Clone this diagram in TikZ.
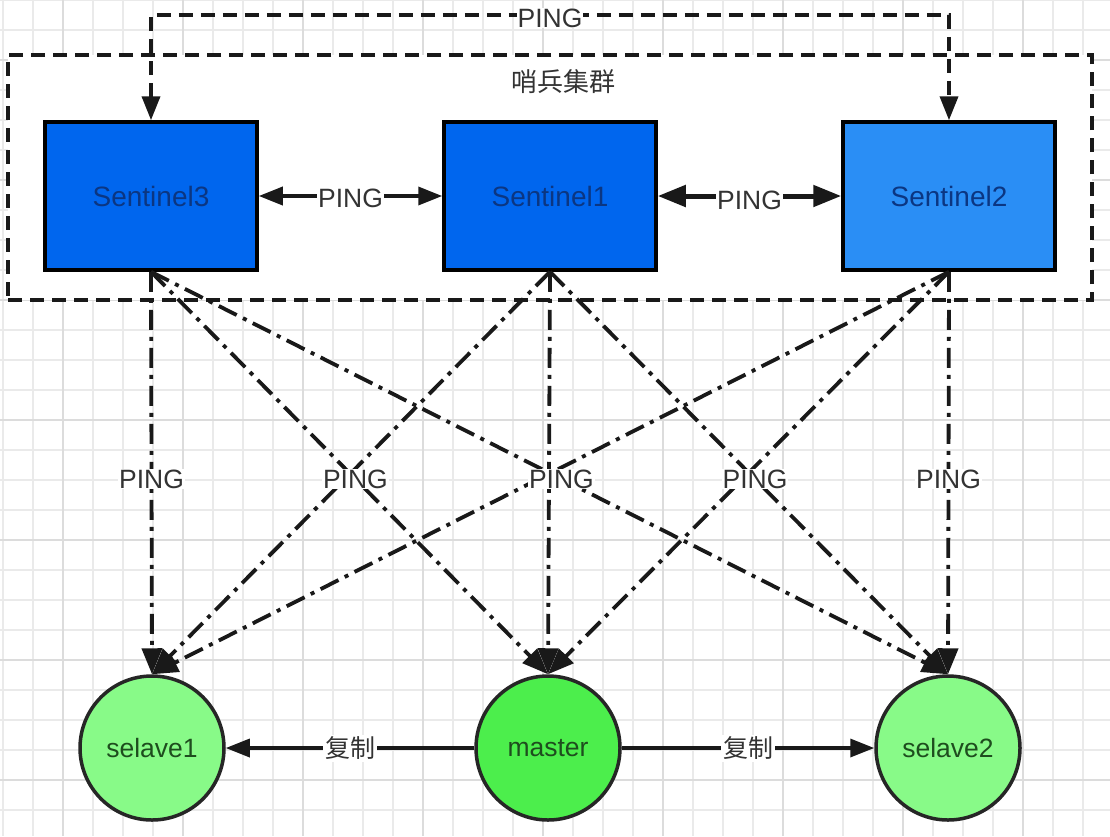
\documentclass[tikz,border=0pt]{standalone}
\usepackage{fontspec}
\setmainfont{Liberation Sans}
\newfontfamily\cjk{Noto Sans CJK SC}
\usetikzlibrary{arrows.meta}
\definecolor{sentA}{HTML}{0066EE}
\definecolor{sentB}{HTML}{2A8EF5}
\definecolor{sentTxt}{HTML}{0B3682}
\definecolor{slaveFill}{HTML}{88FA88}
\definecolor{masterFill}{HTML}{4CEE4C}
\definecolor{greenTxt}{HTML}{1E4D1E}
\definecolor{lblTxt}{HTML}{333333}
\definecolor{gridMinor}{HTML}{EAEAEA}
\definecolor{gridMajor}{HTML}{DCDCDC}
\begin{document}
\begin{tikzpicture}[x=1pt,y=-1pt,
  sentinel/.style={draw=black, line width=3.5pt, minimum width=212pt, minimum height=148pt, inner sep=0pt, text=sentTxt, font=\fontsize{28}{32}\selectfont},
  redis/.style={circle, draw=black!85, line width=3.5pt, minimum size=144pt, inner sep=0pt, text=greenTxt, font=\fontsize{26.5}{30}\selectfont},
  lbl/.style={fill=white, text=lblTxt, inner sep=1pt, font=\fontsize{26.5}{30}\selectfont},
  cjklbl/.style={fill=white, text=lblTxt, inner sep=2pt, font=\cjk\fontsize{25}{28}\selectfont},
  dashline/.style={line width=3.8pt, draw=black!90, dash pattern=on 14pt off 8pt},
  pingline/.style={line width=3.8pt, draw=black!90, dash pattern=on 20pt off 7pt on 4pt off 7pt, -{Triangle[length=26pt,width=20pt,fill=black!90]}},
  solidarrow/.style={line width=3.5pt, draw=black!90},
  tipA/.style={{Triangle[length=24pt,width=18pt,fill=black!90]}-{Triangle[length=24pt,width=18pt,fill=black!90]}},
  tipB/.style={{Triangle[length=28pt,width=21pt,fill=black!90]}-{Triangle[length=28pt,width=21pt,fill=black!90]}},
  reptip/.style={-{Triangle[length=24pt,width=18pt,fill=black!90]}},
]
\useasboundingbox (0,0) rectangle (1110,836);
\fill[white] (0,0) rectangle (1110,836);
% grid
\foreach \k in {0,...,36} \draw[gridMinor, line width=1.2pt] (3+30*\k,0) -- (3+30*\k,836);
\foreach \k in {0,...,27} \draw[gridMinor, line width=1.2pt] (0,30*\k) -- (1110,30*\k);
\foreach \k in {0,...,8} \draw[gridMajor, line width=1.2pt] (63+120*\k,0) -- (63+120*\k,836);
\foreach \k in {0,...,6} \draw[gridMajor, line width=1.2pt] (0,60+120*\k) -- (1110,60+120*\k);

% cluster
\node[dashline, fill=white, minimum width=1084pt, minimum height=245pt, inner sep=0pt] (cluster) at (550,177.5) {};
\node[text=lblTxt, font=\cjk\fontsize{26}{30}\selectfont] (clusterlbl) at (563,82) {哨兵集群};

% sentinels
\node[sentinel, fill=sentA] (S3) at (151,196) {Sentinel3};
\node[sentinel, fill=sentA] (S1) at (550,196) {Sentinel1};
\node[sentinel, fill=sentB] (S2) at (949,196) {Sentinel2};

% redis nodes
\node[redis, fill=slaveFill] (sl1) at (152,748) {selave1};
\node[redis, fill=masterFill] (master) at (548,748) {master};
\node[redis, fill=slaveFill] (sl2) at (948,748) {selave2};

% top PING loop
\coordinate (tp) at (550,15);
\draw[dashline, tipA] (S3.north) |- (tp) -| (S2.north);
\node[lbl] (toplbl) at (550,18) {PING};

% horizontal PINGs
\draw[solidarrow, tipA] (S3.east) -- (S1.west) node[lbl, midway, yshift=-2pt] (h1) {PING};
\draw[solidarrow, line width=5pt, tipB] (S1.east) -- (S2.west) node[lbl, midway, yshift=-4pt] (h2) {PING};

% dash-dot PINGs
\foreach \s in {S3,S1,S2} {
  \foreach \t in {sl1,master,sl2} {
    \draw[pingline] (\s.south) -- (\t.north);
  }
}
\path (S3.south) -- (sl1.north) node[lbl, pos=0.515] (p1) {PING};
\path (S3.south) -- (master.north) node[lbl, pos=0.515] (p2) {PING};
\path (S3.south) -- (sl2.north) node[lbl, pos=0.515] (p3) {PING};
\path (S1.south) -- (sl2.north) node[lbl, pos=0.515] (p4) {PING};
\path (S2.south) -- (sl2.north) node[lbl, pos=0.515] (p5) {PING};

% replication
\draw[solidarrow, reptip] (master.west) -- (sl1.east) node[cjklbl, midway] (r1) {复制};
\draw[solidarrow, reptip] (master.east) -- (sl2.west) node[cjklbl, midway] (r2) {复制};
\end{tikzpicture}
\end{document}
